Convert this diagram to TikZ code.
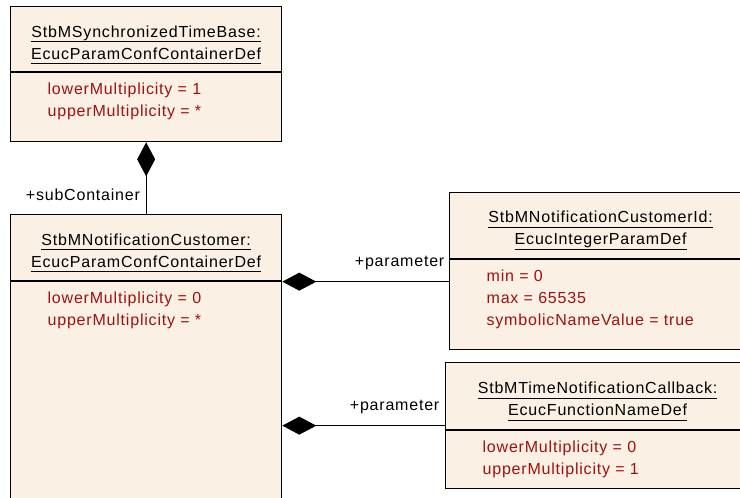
\documentclass[tikz,border=0pt]{standalone}
\usepackage{fontspec}
\setmainfont{Liberation Sans}[LetterSpace=5]
\usetikzlibrary{arrows.meta}
\definecolor{classFill}{RGB}{250,240,228}
\definecolor{attrRed}{RGB}{160,16,16}
\newcommand{\ulname}[1]{\setbox0\hbox{#1}\rlap{\rule[-5pt]{\wd0}{1.2pt}}\box0}
\tikzstyle{classbox} = [draw, fill=classFill, rectangle, anchor=north west, inner sep=0pt]
\tikzstyle{title} = [anchor=north, align=center, inner sep=0pt]
\tikzstyle{attr} = [anchor=north west, align=left, inner sep=0pt, text=attrRed]
\tikzstyle{role} = [anchor=base east, inner sep=0pt]

\begin{document}
\begin{tikzpicture}[x=1pt, y=-1pt, line width=1.3pt, >={Diamond[length=34pt,width=18pt]},
    font=\fontsize{16}{22}\selectfont]
    \useasboundingbox (0,0) rectangle (740,498);
    % classes
    \node [classbox, minimum width=271pt, minimum height=135pt] (timebase) at (10,6) {};
    \node [classbox, minimum width=271pt, minimum height=320pt] (customer) at (10,214) {};
    \node [classbox, minimum width=302pt, minimum height=157pt] (custid) at (449,192) {};
    \node [classbox, minimum width=304pt, minimum height=126pt] (callback) at (445,362) {};

    \draw ([yshift=-66pt]timebase.north west) -- ([yshift=-66pt]timebase.north east);
    \draw ([yshift=-67pt]customer.north west) -- ([yshift=-67pt]customer.north east);
    \draw ([yshift=-67pt]custid.north west) -- ([yshift=-67pt]custid.north east);
    \draw ([yshift=-68pt]callback.north west) -- ([yshift=-68pt]callback.north east);

    \node [title] (timebase-name) at ([yshift=-19pt]timebase.north)
        {\ulname{StbMSynchronizedTimeBase:}\\\ulname{EcucParamConfContainerDef}};
    \node [attr] (timebase-attr) at ([xshift=37pt,yshift=-76.5pt]timebase.north west)
        {lowerMultiplicity = 1\\upperMultiplicity = *};

    \node [title] (customer-name) at ([yshift=-19pt]customer.north)
        {\ulname{StbMNotificationCustomer:}\\\ulname{EcucParamConfContainerDef}};
    \node [attr] (customer-attr) at ([xshift=37pt,yshift=-77.5pt]customer.north west)
        {lowerMultiplicity = 0\\upperMultiplicity = *};

    \node [title] (custid-name) at ([yshift=-18.5pt]custid.north)
        {\ulname{StbMNotificationCustomerId:}\\\ulname{EcucIntegerParamDef}};
    \node [attr] (custid-attr) at ([xshift=37pt,yshift=-77.5pt]custid.north west)
        {min = 0\\max = 65535\\symbolicNameValue = true};

    \node [title] (callback-name) at ([yshift=-19.5pt]callback.north)
        {\ulname{StbMTimeNotificationCallback:}\\\ulname{EcucFunctionNameDef}};
    \node [attr] (callback-attr) at ([xshift=37pt,yshift=-78.5pt]callback.north west)
        {lowerMultiplicity = 0\\upperMultiplicity = 1};

    % compositions
    \coordinate (idlink) at ([yshift=-10.5pt]custid.west);
    \draw [->] (customer.north) -- (timebase.south);
    \draw [->] (idlink) -- (customer.east |- idlink);
    \draw [->] (callback.west) -- (customer.east |- callback.west);

    \node [role] (sub-role) at ([xshift=-5.5pt,yshift=14pt]customer.north) {+subContainer};
    \node [role] (id-role) at ([xshift=-4pt,yshift=15pt]idlink) {+parameter};
    \node [role] (cb-role) at ([xshift=-5pt,yshift=15pt]callback.west) {+parameter};
\end{tikzpicture}
\end{document}
